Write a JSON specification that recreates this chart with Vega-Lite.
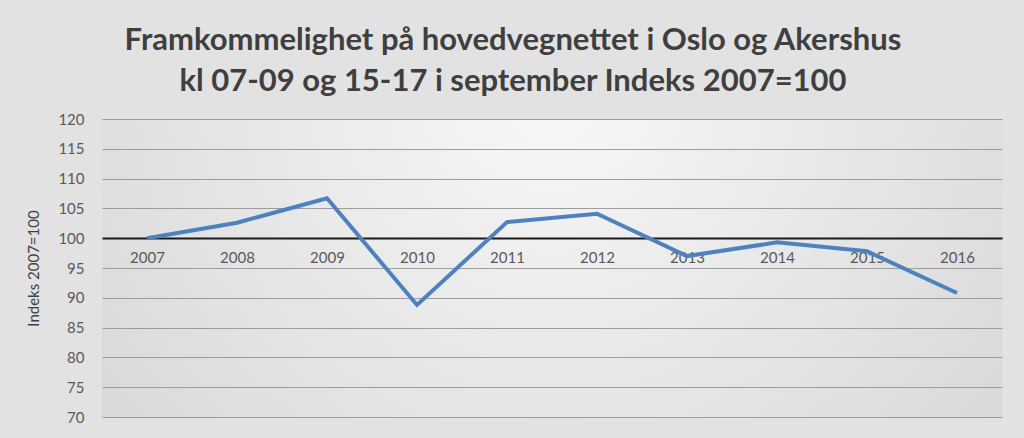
{
  "$schema": "https://vega.github.io/schema/vega-lite/v6.json",
  "width": 900,
  "height": 298,
  "autosize": "none",
  "padding": {"left": 102, "top": 119, "right": 22, "bottom": 21},
  "background": "#e2e2e2",
  "title": {
    "text": ["Framkommelighet på hovedvegnettet i Oslo og Akershus", "kl 07-09 og 15-17 i september Indeks 2007=100"],
    "font": "Lato",
    "fontSize": 31,
    "fontWeight": "bold",
    "color": "#3f3f3f",
    "anchor": "middle",
    "lineHeight": 41,
    "offset": 14,
    "dx": -39
  },
  "config": {
    "view": {
      "stroke": null,
      "fill": {
        "gradient": "radial",
        "x1": 0.5, "y1": 0.3, "r1": 0,
        "x2": 0.5, "y2": 0.3, "r2": 0.75,
        "stops": [
          {"offset": 0, "color": "#f8f8f8"},
          {"offset": 1, "color": "#d2d2d2"}
        ]
      }
    },
    "axis": {"labelFont": "Lato", "titleFont": "Lato"}
  },
  "data": {
    "values": [
      {"year": "2007", "index": 100.0},
      {"year": "2008", "index": 102.6},
      {"year": "2009", "index": 106.7},
      {"year": "2010", "index": 88.8},
      {"year": "2011", "index": 102.7},
      {"year": "2012", "index": 104.1},
      {"year": "2013", "index": 97.0},
      {"year": "2014", "index": 99.3},
      {"year": "2015", "index": 97.8},
      {"year": "2016", "index": 90.8}
    ]
  },
  "mark": {"type": "line", "color": "#4f81bd", "strokeWidth": 4, "strokeJoin": "miter"},
  "encoding": {
    "x": {
      "field": "year",
      "type": "ordinal",
      "scale": {"type": "point", "padding": 0.5},
      "axis": {
        "title": null,
        "labelAngle": 0,
        "offset": -179,
        "ticks": false,
        "domainColor": "#1a1a1a",
        "domainWidth": 2,
        "labelFontSize": 15,
        "labelColor": "#595959",
        "labelPadding": 12,
        "grid": false
      }
    },
    "y": {
      "field": "index",
      "type": "quantitative",
      "scale": {"domain": [70, 120], "nice": false, "zero": false},
      "axis": {
        "values": [70, 75, 80, 85, 90, 95, 100, 105, 110, 115, 120],
        "title": "Indeks 2007=100",
        "titleFontSize": 15,
        "titleFontWeight": "normal",
        "titleColor": "#404040",
        "titlePadding": 16,
        "domain": false,
        "ticks": false,
        "grid": true,
        "gridColor": "#9d9d9d",
        "gridWidth": 1,
        "labelFontSize": 15,
        "labelColor": "#595959",
        "labelPadding": 18
      }
    }
  }
}
